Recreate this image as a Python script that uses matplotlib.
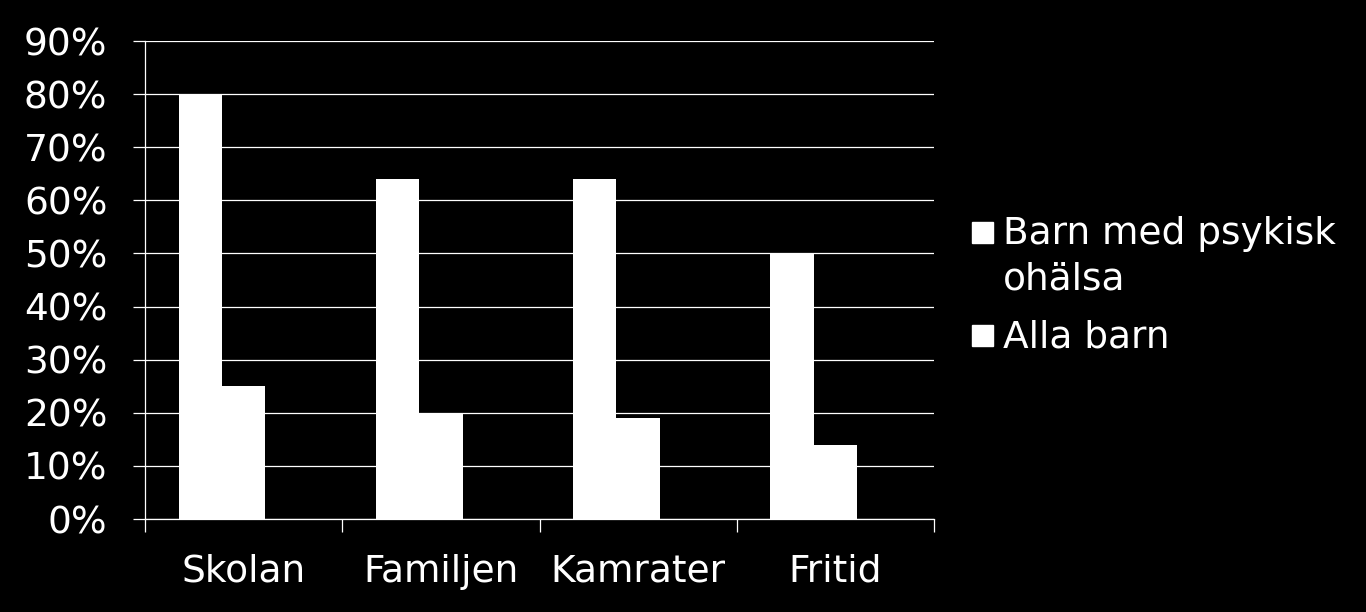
import matplotlib.pyplot as plt
from matplotlib.patches import Rectangle
import numpy as np

categories = ['Skolan', 'Familjen', 'Kamrater', 'Fritid']
psykisk = [80, 64, 64, 50]
alla = [25, 20, 19, 14]
labels = ['Barn med psykisk\nohälsa', 'Alla barn']

plt.rcParams['font.family'] = ['DejaVu Sans']

W, H = 1366, 612
fig = plt.figure(figsize=(W / 100, H / 100), dpi=100, facecolor='black')
ax = fig.add_axes([145 / W, 1 - 519 / H, 789 / W, 478 / H], facecolor='black')

x = np.arange(len(categories))
w = 0.22
ax.bar(x - w, psykisk, width=w, color='white', zorder=3)
ax.bar(x, alla, width=w, color='white', zorder=3)

ax.set_xlim(-0.5, 3.5)
ax.set_ylim(0, 90)
ax.set_yticks(range(0, 91, 10))
ax.set_yticklabels([f'{v}%' for v in range(0, 91, 10)])
ax.set_xticks(x)
ax.set_xticklabels(categories)
ax.set_xticks(np.arange(-0.5, 4, 1), minor=True)
ax.tick_params(axis='x', which='major', length=0, pad=25, labelsize=27, colors='white')
ax.tick_params(axis='x', which='minor', length=9.5, width=0.9, colors='white', direction='out')
ax.tick_params(axis='y', length=9, width=0.9, colors='white', labelsize=27, pad=18)
ax.grid(axis='y', color='white', linewidth=0.9, zorder=1)
ax.set_axisbelow(True)

for s in ['top', 'right']:
    ax.spines[s].set_visible(False)
for s in ['left', 'bottom']:
    ax.spines[s].set_color('white')
    ax.spines[s].set_linewidth(0.9)

# legend drawn by hand: square aligned with the first line of each label
entries = [(labels[0], 244, 222), (labels[1], 347, 325)]
for text, baseline, sq_top in entries:
    fig.add_artist(Rectangle((972 / W, 1 - (sq_top + 21) / H), 21 / W, 21 / H,
                             transform=fig.transFigure, color='white'))
    first, *rest = text.split('\n')
    fig.text(1003 / W, 1 - baseline / H, first, color='white', fontsize=27,
             va='baseline', ha='left')
    for k, line in enumerate(rest, start=1):
        fig.text(1003 / W, 1 - (baseline + 46 * k) / H, line, color='white',
                 fontsize=27, va='baseline', ha='left')

fig.savefig('out.png', facecolor='black')
